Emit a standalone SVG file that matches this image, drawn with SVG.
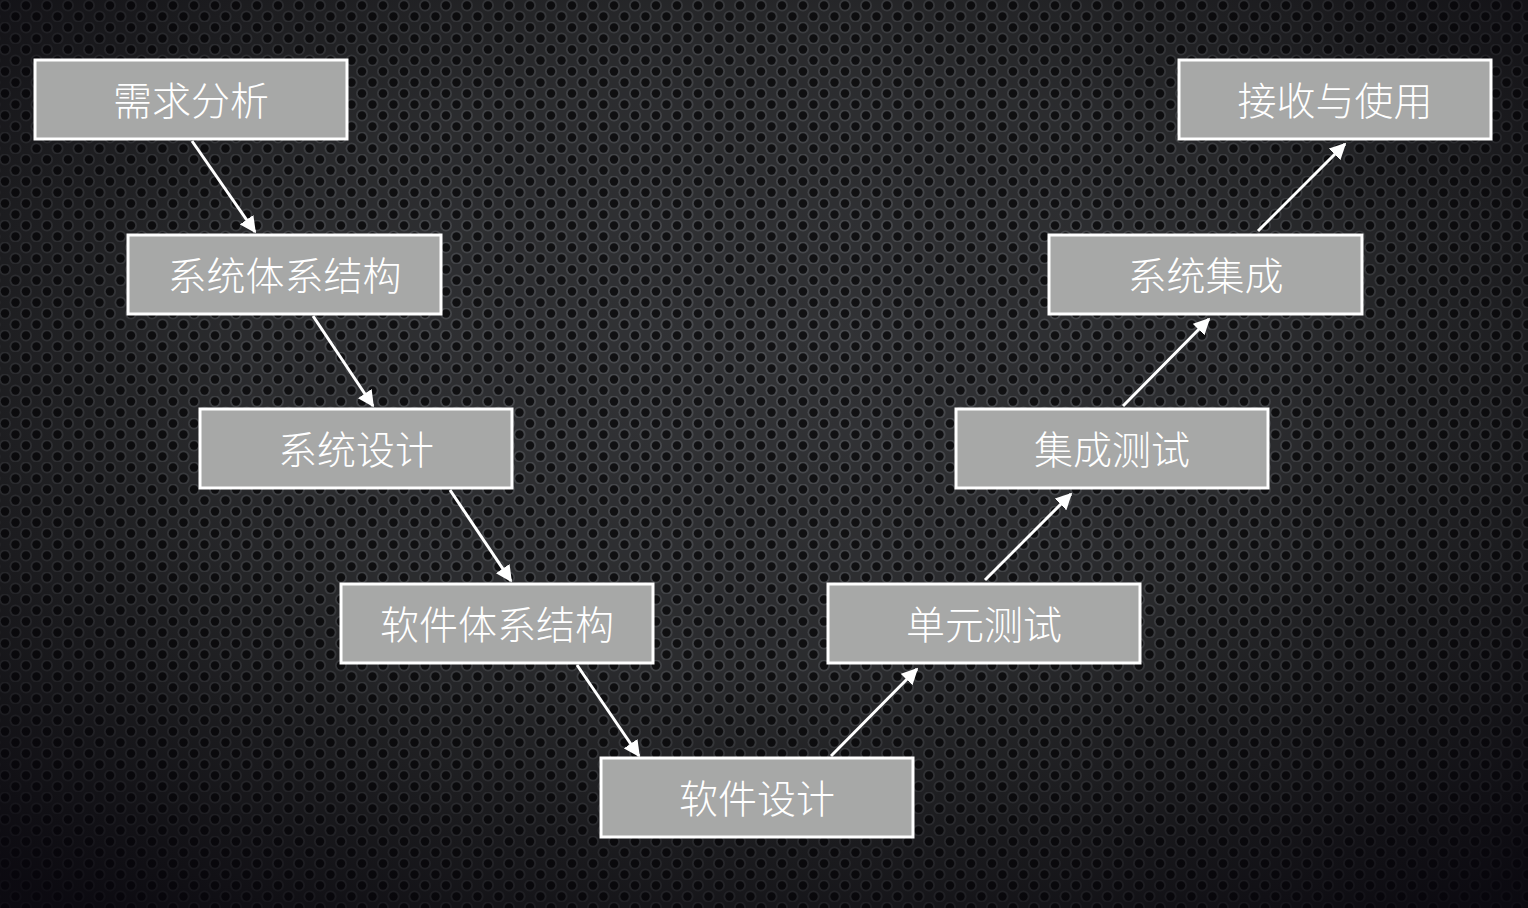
<svg xmlns="http://www.w3.org/2000/svg" width="1528" height="908" viewBox="0 0 1528 908">
<defs>
<pattern id="holes" x="0" y="0" width="21" height="22" patternUnits="userSpaceOnUse">
<rect width="21" height="22" fill="#323336"/>
<circle cx="5" cy="5.5" r="6" fill="#4a4c50"/>
<circle cx="15.5" cy="16.5" r="6" fill="#4a4c50"/>
<circle cx="5" cy="5.5" r="4.2" fill="#111113"/>
<circle cx="15.5" cy="16.5" r="4.2" fill="#111113"/>
<circle cx="-5.5" cy="16.5" r="6" fill="#4a4c50"/>
<circle cx="-5.5" cy="16.5" r="4.2" fill="#111113"/>
<circle cx="26" cy="5.5" r="6" fill="#4a4c50"/>
<circle cx="26" cy="5.5" r="4.2" fill="#111113"/>
</pattern>
<radialGradient id="vig" cx="0.5" cy="0.4" r="0.75">
<stop offset="0" stop-color="#000" stop-opacity="0"/>
<stop offset="0.45" stop-color="#000" stop-opacity="0.15"/>
<stop offset="1" stop-color="#05030a" stop-opacity="0.85"/>
</radialGradient>
<marker id="ah" viewBox="0 0 10 10" refX="9" refY="5" markerWidth="5.5" markerHeight="5.5" orient="auto" markerUnits="strokeWidth">
<path d="M0,0 L10,5 L0,10 z" fill="#fff"/>
</marker>
<style>
.box{fill:#a7a8a7;stroke:#fff;stroke-width:3}
.lbl{fill:#fff;font-family:"Noto Sans CJK SC","Noto Sans",sans-serif;font-size:39px;font-weight:300;text-anchor:middle;dominant-baseline:central}
.con{stroke:#fff;stroke-width:3;fill:none;marker-end:url(#ah)}
</style>
</defs>
<rect width="1528" height="908" fill="url(#holes)"/>
<rect width="1528" height="908" fill="url(#vig)"/>
<g id="connectors">
<line class="con" x1="192" y1="141" x2="255" y2="232"/>
<line class="con" x1="313" y1="316" x2="373" y2="406"/>
<line class="con" x1="450" y1="490" x2="511" y2="581"/>
<line class="con" x1="577" y1="665" x2="639" y2="756"/>
<line class="con" x1="831" y1="756" x2="917" y2="669"/>
<line class="con" x1="985" y1="580" x2="1071" y2="494"/>
<line class="con" x1="1123" y1="406" x2="1209" y2="319"/>
<line class="con" x1="1258" y1="231" x2="1345" y2="144"/>
</g>
<g id="n1"><rect class="box" x="35" y="60" width="312" height="79"/><text class="lbl" x="191" y="98">需求分析</text></g>
<g id="n2"><rect class="box" x="128" y="235" width="313" height="79"/><text class="lbl" x="284.5" y="273">系统体系结构</text></g>
<g id="n3"><rect class="box" x="200" y="409" width="312" height="79"/><text class="lbl" x="356" y="447">系统设计</text></g>
<g id="n4"><rect class="box" x="341" y="584" width="312" height="79"/><text class="lbl" x="497" y="622">软件体系结构</text></g>
<g id="n5"><rect class="box" x="601" y="758" width="312" height="79"/><text class="lbl" x="757" y="796">软件设计</text></g>
<g id="n6"><rect class="box" x="828" y="584" width="312" height="79"/><text class="lbl" x="984" y="622">单元测试</text></g>
<g id="n7"><rect class="box" x="956" y="409" width="312" height="79"/><text class="lbl" x="1112" y="447">集成测试</text></g>
<g id="n8"><rect class="box" x="1049" y="235" width="313" height="79"/><text class="lbl" x="1205.5" y="273">系统集成</text></g>
<g id="n9"><rect class="box" x="1179" y="60" width="312" height="79"/><text class="lbl" x="1335" y="98">接收与使用</text></g>
</svg>
